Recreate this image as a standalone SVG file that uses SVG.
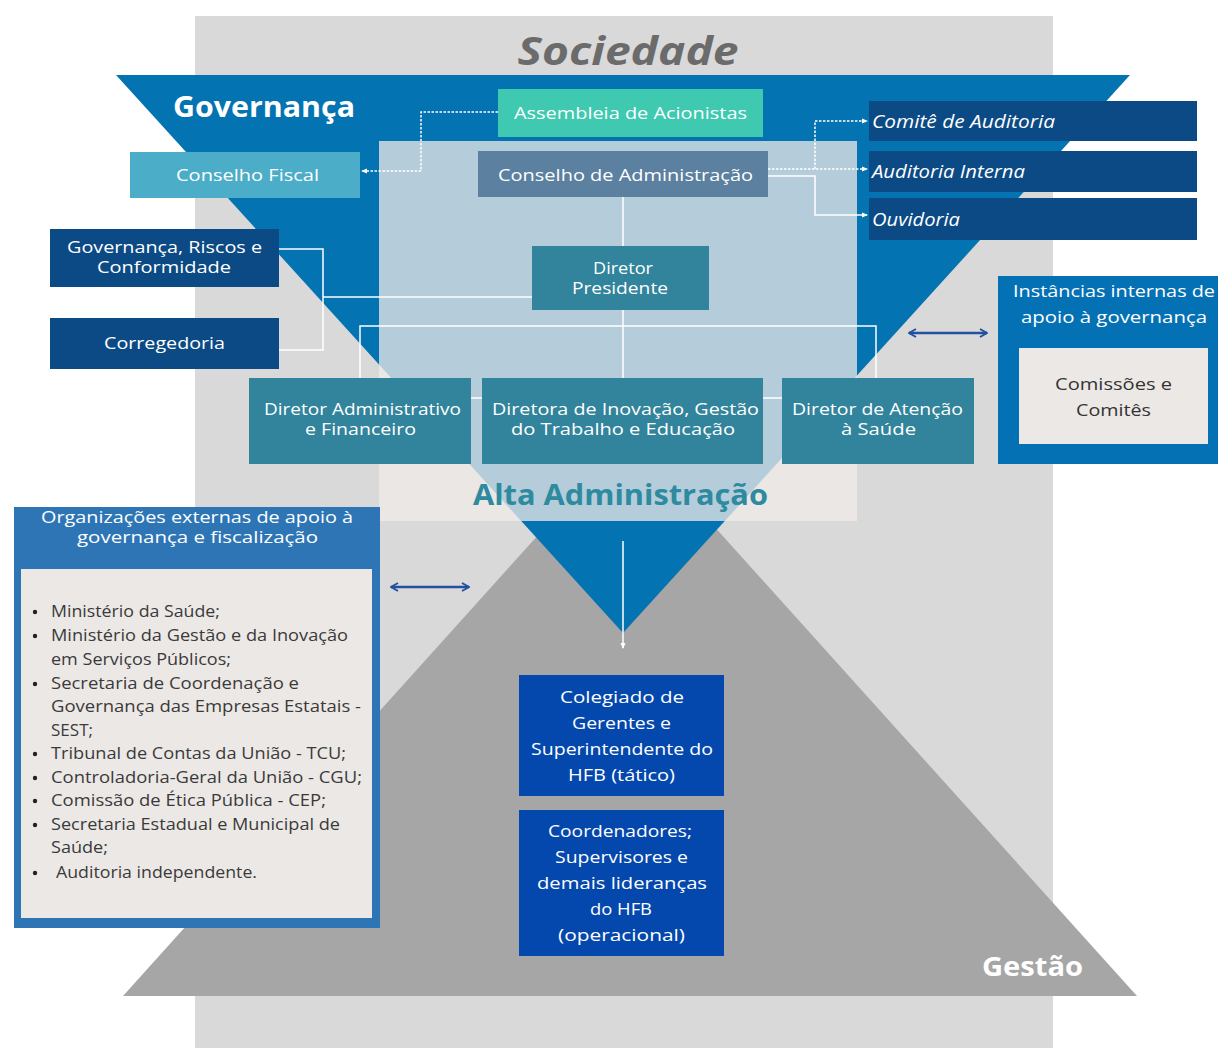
<svg xmlns="http://www.w3.org/2000/svg" width="1218" height="1048" viewBox="0 0 1218 1048">
  <style>
    text { font-family: "Open Sans", "DejaVu Sans", sans-serif; }
    .w { fill: #ffffff; font-size: 17px; }
    .wc { fill: #ffffff; font-size: 17px; text-anchor: middle; }
    .tight { fill: #ffffff; font-size: 15.5px; text-anchor: middle; }
    .it { fill: #ffffff; font-size: 17.5px; font-style: italic; }
    .dark { fill: #333333; font-size: 16.5px; text-anchor: middle; }
    .li { fill: #3a3a3a; font-size: 15.5px; }
    .navy { fill: #0c4a85; }
    .dirbox { fill: #31849b; }
    .op { fill: #0448ad; }
    .inner { fill: #ece8e6; }
    .conn { fill: none; stroke: #ffffff; stroke-width: 1.5; }
    .dot { stroke-dasharray: 2.5 1.5; }
    .dbl { fill: none; stroke: #2450a0; stroke-width: 2.5; }
  </style>
  <defs>
    <marker id="tip" viewBox="0 0 6 6" refX="5" refY="3" markerWidth="6" markerHeight="6" markerUnits="userSpaceOnUse" orient="auto">
      <path d="M0,0.5 L6,3 L0,5.5 Z" fill="#ffffff"/>
    </marker>
    <marker id="chev" viewBox="0 0 10 10" refX="9" refY="5" markerWidth="10" markerHeight="10" markerUnits="userSpaceOnUse" orient="auto-start-reverse">
      <path d="M2,1 L9,5 L2,9" fill="none" stroke="#2450a0" stroke-width="2"/>
    </marker>
  </defs>

  <!-- backdrop: society -->
  <rect x="195" y="16" width="858" height="1032" fill="#d9d9d9"/>
  <text x="628" y="65" text-anchor="middle" font-size="40" font-weight="bold" font-style="italic" fill="#6b6b6b" textLength="221" lengthAdjust="spacingAndGlyphs">Sociedade</text>

  <!-- management pyramid -->
  <polygon points="123,996 1137,996 630,433" fill="#a6a6a6"/>
  <!-- governance inverted triangle -->
  <polygon points="116,75 1130,75 623,633" fill="#0373b1"/>
  <!-- top administration panel -->
  <rect x="379" y="141" width="478" height="380" fill="#ebe7e4"/>
  <polygon points="379,141 857,141 857,375.5 724.8,521 521.2,521 379,364.5" fill="#b5ccda"/>

  <text x="173" y="117" font-size="28" font-weight="bold" fill="#ffffff" textLength="182" lengthAdjust="spacingAndGlyphs">Governança</text>
  <text x="620.5" y="505" text-anchor="middle" font-size="28" font-weight="bold" fill="#2e8a9e" textLength="295" lengthAdjust="spacingAndGlyphs">Alta Administração</text>
  <text x="982" y="976" font-size="26" font-weight="bold" fill="#ffffff" textLength="101" lengthAdjust="spacingAndGlyphs">Gestão</text>

  <!-- connectors -->
  <g id="connectors">
    <polyline class="conn dot" points="498,112 421,112 421,171 362,171" marker-end="url(#tip)"/>
    <polyline class="conn dot" points="768,169 867,169" marker-end="url(#tip)"/>
    <polyline class="conn dot" points="815,169 815,121 867,121" marker-end="url(#tip)"/>
    <polyline class="conn" points="768,176 815,176 815,215 867,215" marker-end="url(#tip)"/>
    <line class="conn" x1="623" y1="197" x2="623" y2="246"/>
    <line class="conn" x1="623" y1="310" x2="623" y2="378"/>
    <polyline class="conn" points="360,378 360,326 876,326 876,378"/>
    <line class="conn" x1="471" y1="398" x2="783" y2="398"/>
    <polyline class="conn" points="532,297 323,297"/>
    <polyline class="conn" points="279,249 323,249 323,350 279,350"/>
    <line class="conn" x1="623" y1="541" x2="623" y2="648" marker-end="url(#tip)"/>
    <line class="dbl" x1="909" y1="333" x2="987" y2="333" marker-start="url(#chev)" marker-end="url(#chev)"/>
    <line class="dbl" x1="391" y1="587" x2="469" y2="587" marker-start="url(#chev)" marker-end="url(#chev)"/>
  </g>

  <g id="assembleia">
    <rect x="498" y="89" width="265" height="48" fill="#3ec9b0"/>
    <text class="wc" x="630.5" y="119" textLength="233" lengthAdjust="spacingAndGlyphs">Assembleia de Acionistas</text>
  </g>
  <g id="conselho-fiscal">
    <rect x="130" y="152" width="230" height="46" fill="#4badc7"/>
    <text class="wc" x="247.5" y="181" textLength="143" lengthAdjust="spacingAndGlyphs">Conselho Fiscal</text>
  </g>
  <g id="conselho-administracao">
    <rect x="478" y="151" width="290" height="46" fill="#5b80a0"/>
    <text class="wc" x="625.5" y="181" textLength="255" lengthAdjust="spacingAndGlyphs">Conselho de Administração</text>
  </g>
  <g id="comite-auditoria">
    <rect class="navy" x="869" y="101" width="328" height="40"/>
    <text class="it" x="872" y="128" textLength="183" lengthAdjust="spacingAndGlyphs">Comitê de Auditoria</text>
  </g>
  <g id="auditoria-interna">
    <rect class="navy" x="869" y="151" width="328" height="41"/>
    <text class="it" x="872" y="178" textLength="153" lengthAdjust="spacingAndGlyphs">Auditoria Interna</text>
  </g>
  <g id="ouvidoria">
    <rect class="navy" x="869" y="198" width="328" height="42"/>
    <text class="it" x="872" y="226" textLength="88" lengthAdjust="spacingAndGlyphs">Ouvidoria</text>
  </g>
  <g id="governanca-riscos">
    <rect class="navy" x="50" y="229" width="229" height="58"/>
    <text class="tight" x="164.5" y="253" textLength="195" lengthAdjust="spacingAndGlyphs">Governança, Riscos e</text>
    <text class="tight" x="164" y="273" textLength="134" lengthAdjust="spacingAndGlyphs">Conformidade</text>
  </g>
  <g id="corregedoria">
    <rect class="navy" x="50" y="318" width="229" height="51"/>
    <text class="wc" x="164.5" y="349" textLength="121" lengthAdjust="spacingAndGlyphs">Corregedoria</text>
  </g>
  <g id="diretor-presidente">
    <rect class="dirbox" x="532" y="246" width="177" height="64"/>
    <text class="tight" x="623" y="274" textLength="60" lengthAdjust="spacingAndGlyphs">Diretor</text>
    <text class="tight" x="620" y="294" textLength="96" lengthAdjust="spacingAndGlyphs">Presidente</text>
  </g>
  <g id="diretor-administrativo">
    <rect class="dirbox" x="249" y="378" width="222" height="86"/>
    <text class="tight" x="362.5" y="415" textLength="197" lengthAdjust="spacingAndGlyphs">Diretor Administrativo</text>
    <text class="tight" x="360.5" y="435" textLength="111" lengthAdjust="spacingAndGlyphs">e Financeiro</text>
  </g>
  <g id="diretora-inovacao">
    <rect class="dirbox" x="482" y="378" width="281" height="86"/>
    <text class="tight" x="625.5" y="415" textLength="267" lengthAdjust="spacingAndGlyphs">Diretora de Inovação, Gestão</text>
    <text class="tight" x="623" y="435" textLength="224" lengthAdjust="spacingAndGlyphs">do Trabalho e Educação</text>
  </g>
  <g id="diretor-atencao">
    <rect class="dirbox" x="782" y="378" width="192" height="86"/>
    <text class="tight" x="877.5" y="415" textLength="171" lengthAdjust="spacingAndGlyphs">Diretor de Atenção</text>
    <text class="tight" x="878.5" y="435" textLength="75" lengthAdjust="spacingAndGlyphs">à Saúde</text>
  </g>

  <g id="instancias-internas">
    <rect x="998" y="276" width="220" height="188" fill="#0571b5"/>
    <text class="wc" x="1114" y="297" textLength="202" lengthAdjust="spacingAndGlyphs">Instâncias internas de</text>
    <text class="wc" x="1114" y="323" textLength="186" lengthAdjust="spacingAndGlyphs">apoio à governança</text>
    <rect class="inner" x="1019" y="348" width="189" height="96"/>
    <text class="dark" x="1113.5" y="390" textLength="117" lengthAdjust="spacingAndGlyphs">Comissões e</text>
    <text class="dark" x="1113.5" y="416" textLength="75" lengthAdjust="spacingAndGlyphs">Comitês</text>
  </g>

  <g id="organizacoes-externas">
    <rect x="14" y="507" width="366" height="421" fill="#2e75b6"/>
    <text class="tight" x="197" y="523" textLength="312" lengthAdjust="spacingAndGlyphs">Organizações externas de apoio à</text>
    <text class="tight" x="197.5" y="543" textLength="241" lengthAdjust="spacingAndGlyphs">governança e fiscalização</text>
    <rect class="inner" x="21" y="569" width="351" height="349"/>
    <g fill="#222222">
      <circle cx="35" cy="612" r="2.2"/>
      <circle cx="35" cy="636" r="2.2"/>
      <circle cx="35" cy="684" r="2.2"/>
      <circle cx="35" cy="754" r="2.2"/>
      <circle cx="35" cy="778" r="2.2"/>
      <circle cx="35" cy="801" r="2.2"/>
      <circle cx="35" cy="825" r="2.2"/>
      <circle cx="35" cy="873" r="2.2"/>
    </g>
    <text class="li" x="51" y="617" textLength="169" lengthAdjust="spacingAndGlyphs">Ministério da Saúde;</text>
    <text class="li" x="51" y="641" textLength="297" lengthAdjust="spacingAndGlyphs">Ministério da Gestão e da Inovação</text>
    <text class="li" x="51" y="665" textLength="180" lengthAdjust="spacingAndGlyphs">em Serviços Públicos;</text>
    <text class="li" x="51" y="689" textLength="248" lengthAdjust="spacingAndGlyphs">Secretaria de Coordenação e</text>
    <text class="li" x="51" y="712" textLength="310" lengthAdjust="spacingAndGlyphs">Governança das Empresas Estatais -</text>
    <text class="li" x="51" y="736" textLength="42" lengthAdjust="spacingAndGlyphs">SEST;</text>
    <text class="li" x="51" y="759" textLength="295" lengthAdjust="spacingAndGlyphs">Tribunal de Contas da União - TCU;</text>
    <text class="li" x="51" y="783" textLength="311" lengthAdjust="spacingAndGlyphs">Controladoria-Geral da União - CGU;</text>
    <text class="li" x="51" y="806" textLength="275" lengthAdjust="spacingAndGlyphs">Comissão de Ética Pública - CEP;</text>
    <text class="li" x="51" y="830" textLength="289" lengthAdjust="spacingAndGlyphs">Secretaria Estadual e Municipal de</text>
    <text class="li" x="51" y="853" textLength="57" lengthAdjust="spacingAndGlyphs">Saúde;</text>
    <text class="li" x="56" y="878" textLength="201" lengthAdjust="spacingAndGlyphs">Auditoria independente.</text>
  </g>

  <g id="colegiado">
    <rect class="op" x="519" y="675" width="205" height="121"/>
    <text class="wc" x="622" y="703" textLength="124" lengthAdjust="spacingAndGlyphs">Colegiado de</text>
    <text class="wc" x="621.5" y="729" textLength="99" lengthAdjust="spacingAndGlyphs">Gerentes e</text>
    <text class="wc" x="622" y="755" textLength="182" lengthAdjust="spacingAndGlyphs">Superintendente do</text>
    <text class="wc" x="621.5" y="781" textLength="107" lengthAdjust="spacingAndGlyphs">HFB (tático)</text>
  </g>
  <g id="coordenadores">
    <rect class="op" x="519" y="810" width="205" height="146"/>
    <text class="wc" x="620" y="837" textLength="144" lengthAdjust="spacingAndGlyphs">Coordenadores;</text>
    <text class="wc" x="621.5" y="863" textLength="133" lengthAdjust="spacingAndGlyphs">Supervisores e</text>
    <text class="wc" x="622" y="889" textLength="170" lengthAdjust="spacingAndGlyphs">demais lideranças</text>
    <text class="wc" x="621" y="915" textLength="62" lengthAdjust="spacingAndGlyphs">do HFB</text>
    <text class="wc" x="621.5" y="941" textLength="127" lengthAdjust="spacingAndGlyphs">(operacional)</text>
  </g>
</svg>
